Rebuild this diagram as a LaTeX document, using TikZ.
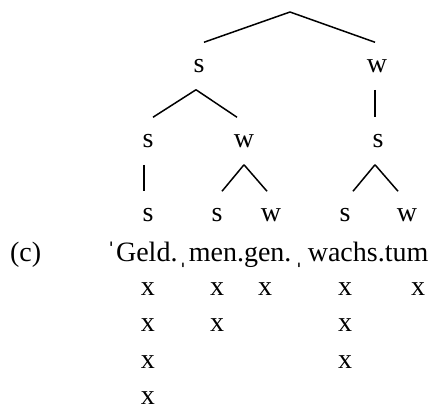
\documentclass[tikz,border=0pt]{standalone}
\usepackage{fontspec}
\setmainfont{Liberation Serif}
\usetikzlibrary{positioning}

\tikzset{
  lab/.style={inner sep=0pt, minimum height=46pt},
  gridx/.style={inner sep=0pt}
}

\begin{document}
\begin{tikzpicture}[on grid, line width=1.5pt, font=\fontsize{28}{32}\selectfont]
      \coordinate (top) at (0,0);
      \useasboundingbox ([shift={(-290pt,12pt)}]top) rectangle ([shift={(146pt,-396pt)}]top);
      % tree
      \node[lab] (s1) at ([shift={(-91pt,-54pt)}]top) {s};
      \node[lab] (w1) at ([shift={(87pt,-54pt)}]top) {w};
      \node[lab] (s2) [below left=75pt and 51pt of s1] {s};
      \node[lab] (w2) [below right=75pt and 45pt of s1] {w};
      \node[lab] (s3) [below right=75pt and 1pt of w1] {s};
      \node[lab] (s4) [below=74pt of s2] {s};
      \node[lab] (s5) [below left=74pt and 27pt of w2] {s};
      \node[lab] (w5) [below right=74pt and 27pt of w2] {w};
      \node[lab] (s6) [below left=74pt and 33pt of s3] {s};
      \node[lab] (w6) [below right=74pt and 29pt of s3] {w};
      \path
      (top) edge ([xshift=5pt]s1.north)
            edge ([xshift=-2pt]w1.north)
      ([xshift=-3pt]s1.south) edge ([xshift=5pt]s2.north)
            edge ([xshift=-7pt]w2.north)
      ([xshift=-2pt]w1.south) edge ([xshift=-3pt]s3.north)
      ([xshift=-4pt]s2.south) edge ([xshift=-4pt]s4.north)
      (w2.south) edge ([xshift=5pt]s5.north)
            edge ([xshift=-4pt]w5.north)
      ([xshift=-3pt]s3.south) edge ([xshift=8pt]s6.north)
            edge ([xshift=-9pt]w6.north);
      % word and grid
      \node[anchor=base west, inner sep=0pt] (word) at ([shift={(-42pt,-40pt)}]s4.base)
        {ˈGeld.\hspace{1pt}ˌ\hspace{1pt}men.gen.\hspace{3pt}ˌ\hspace{4pt}wachs.tum};
      \node[anchor=base east, inner sep=0pt] (ex) at ([xshift=-64pt]word.base west) {(c)};
      \node[gridx] (x1a) [below=74pt of s4] {x};
      \node[gridx] (x1b) [below=36.3pt of x1a] {x};
      \node[gridx] (x1c) [below=36.3pt of x1b] {x};
      \node[gridx] (x1d) [below=36.3pt of x1c] {x};
      \node[gridx] (x2a) [below=74pt of s5] {x};
      \node[gridx] (x2b) [below=36.3pt of x2a] {x};
      \node[gridx] (x3a) [below left=74pt and 6pt of w5] {x};
      \node[gridx] (x4a) [below=74pt of s6] {x};
      \node[gridx] (x4b) [below=36.3pt of x4a] {x};
      \node[gridx] (x4c) [below=36.3pt of x4b] {x};
      \node[gridx] (x5a) [below right=74pt and 11pt of w6] {x};
    \end{tikzpicture}
\end{document}
